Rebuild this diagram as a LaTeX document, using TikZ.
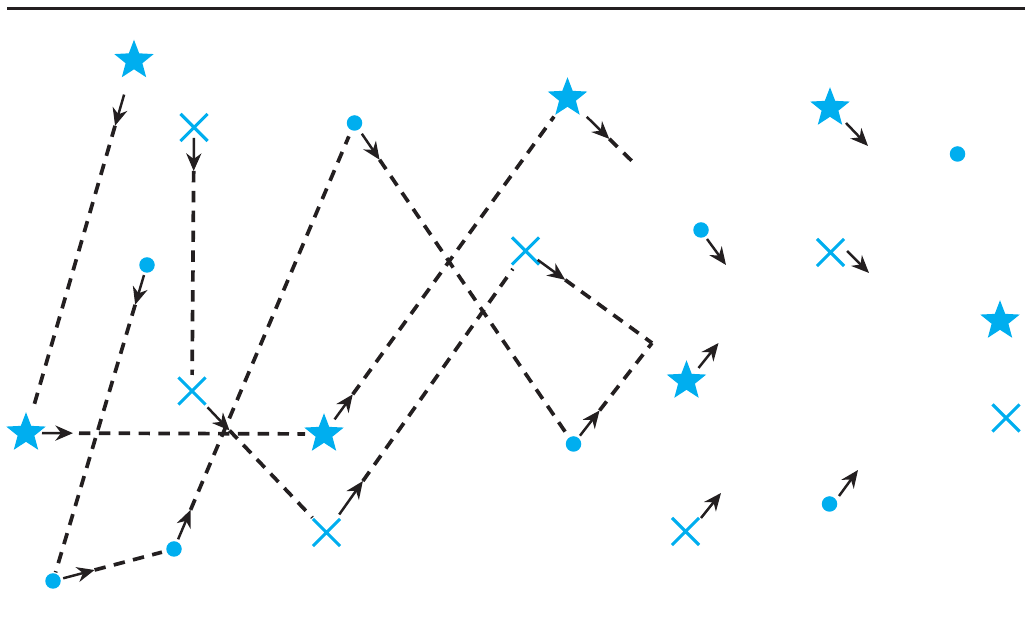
\documentclass[tikz,border=0pt]{standalone}
\usepackage{tikz}
\usetikzlibrary{shapes.geometric, shapes.misc, arrows.meta, calc}
\definecolor{ciano}{RGB}{0,174,239}
\definecolor{tinta}{RGB}{35,31,32}

\begin{document}
\begin{tikzpicture}[
	estrela/.style={star, star points=5, star point ratio=2.35, fill=ciano, minimum size=0.83cm, inner sep=0pt},
	cruz/.style={cross out, draw=ciano, line width=1.8pt, minimum size=0.48cm, inner sep=0pt},
	ponto/.style={circle, fill=ciano, minimum size=0.31cm, inner sep=0pt},
	seta/.style={-{Stealth[length=10pt, width=8.6pt, inset=3.2pt]}, line width=1.4pt, draw=tinta},
	trilha/.style={line width=2.1pt, draw=tinta, dash pattern=on 6.5pt off 4.8pt}
	]
	\useasboundingbox (0,0) rectangle (20.5,12.48);
	\draw[tinta, line width=1.3pt] (0.14,12.31) -- (20.5,12.31);

	\node[estrela] (s1) at (2.68,11.27) {};
	\node[estrela] (s2) at (0.52,3.82) {};
	\node[estrela] (s3) at (6.48,3.80) {};
	\node[estrela] (s4) at (11.35,10.52) {};
	\node[estrela] (s5) at (16.60,10.32) {};
	\node[estrela] (s6) at (13.73,4.86) {};
	\node[estrela] (s7) at (20.00,6.06) {};

	\node[cruz] (x1) at (3.88,9.93) {};
	\node[cruz] (x2) at (3.84,4.66) {};
	\node[cruz] (x3) at (6.53,1.83) {};
	\node[cruz] (x4) at (10.51,7.46) {};
	\node[cruz] (x5) at (16.61,7.43) {};
	\node[cruz] (x6) at (13.71,1.85) {};
	\node[cruz] (x7) at (20.12,4.12) {};

	\node[ponto] (p1) at (2.94,7.18) {};
	\node[ponto] (p2) at (7.09,10.02) {};
	\node[ponto] (p3) at (1.06,0.86) {};
	\node[ponto] (p4) at (3.48,1.50) {};
	\node[ponto] (p5) at (11.47,3.60) {};
	\node[ponto] (p6) at (14.02,7.88) {};
	\node[ponto] (p7) at (19.15,9.40) {};
	\node[ponto] (p8) at (16.59,2.40) {};

	\coordinate (fim) at (12.74,9.16);
	\coordinate (encontro) at (13.04,5.62);

	\draw[seta] ($(s1)!0.71cm!(s2)$) -- ($(s1)!1.36cm!(s2)$);
	\draw[trilha] ($(s1)!1.36cm!(s2)$) -- ($(s2)!0.44cm!(s1)$);
	\draw[seta] ($(s2)!0.32cm!(s3)$) -- ($(s2)!0.94cm!(s3)$);
	\draw[trilha] ($(s2)!1.06cm!(s3)$) -- ($(s3)!0.38cm!(s2)$);
	\draw[seta] ($(s3)!0.36cm!(s4)$) -- ($(s3)!0.98cm!(s4)$);
	\draw[trilha] ($(s3)!0.98cm!(s4)$) -- ($(s4)!0.46cm!(s3)$);
	\draw[seta] ($(s4)!0.54cm!(fim)$) -- ($(s4)!1.17cm!(fim)$);
	\draw[trilha] ($(s4)!1.17cm!(fim)$) -- (fim);
	\draw[seta] ($(s5)+(0.32,-0.30)$) -- ($(s5)+(0.76,-0.76)$);
	\draw[seta] ($(s6)+(0.24,0.26)$) -- ($(s6)+(0.64,0.76)$);

	\draw[seta] ($(x1)!0.21cm!(x2)$) -- ($(x1)!0.87cm!(x2)$);
	\draw[trilha] ($(x1)!0.87cm!(x2)$) -- ($(x2)!0.32cm!(x1)$);
	\draw[seta] ($(x2)!0.45cm!(x3)$) -- ($(x2)!1.09cm!(x3)$);
	\draw[trilha] ($(x2)!1.09cm!(x3)$) -- ($(x3)!0.41cm!(x2)$);
	\draw[seta] ($(x3)!0.44cm!(x4)$) -- ($(x3)!1.26cm!(x4)$);
	\draw[trilha] ($(x3)!1.26cm!(x4)$) -- ($(x4)!0.44cm!(x3)$);
	\draw[seta] ($(x4)!0.30cm!(encontro)$) -- ($(x4)!0.98cm!(encontro)$);
	\draw[trilha] ($(x4)!0.98cm!(encontro)$) -- (encontro);
	\draw[seta] ($(x5)+(0.33,0.03)$) -- ($(x5)+(0.77,-0.41)$);
	\draw[seta] ($(x6)+(0.31,0.27)$) -- ($(x6)+(0.71,0.77)$);

	\draw[seta] ($(p1)!0.21cm!(p3)$) -- ($(p1)!0.83cm!(p3)$);
	\draw[trilha] ($(p1)!0.83cm!(p3)$) -- ($(p3)!0.18cm!(p1)$);
	\draw[seta] ($(p3)!0.21cm!(p4)$) -- ($(p3)!0.86cm!(p4)$);
	\draw[trilha] ($(p3)!0.86cm!(p4)$) -- ($(p4)!0.25cm!(p3)$);
	\draw[seta] ($(p4)!0.21cm!(p2)$) -- ($(p4)!0.85cm!(p2)$);
	\draw[trilha] ($(p4)!0.85cm!(p2)$) -- ($(p2)!0.29cm!(p4)$);
	\draw[seta] ($(p2)!0.26cm!(p5)$) -- ($(p2)!0.89cm!(p5)$);
	\draw[trilha] ($(p2)!0.89cm!(p5)$) -- ($(p5)!0.25cm!(p2)$);
	\draw[seta] ($(p5)!0.21cm!(encontro)$) -- ($(p5)!0.85cm!(encontro)$);
	\draw[trilha] ($(p5)!0.85cm!(encontro)$) -- (encontro);
	\draw[seta] ($(p6)+(0.12,-0.18)$) -- ($(p6)+(0.50,-0.70)$);
	\draw[seta] ($(p8)+(0.19,0.16)$) -- ($(p8)+(0.57,0.68)$);
\end{tikzpicture}
\end{document}
